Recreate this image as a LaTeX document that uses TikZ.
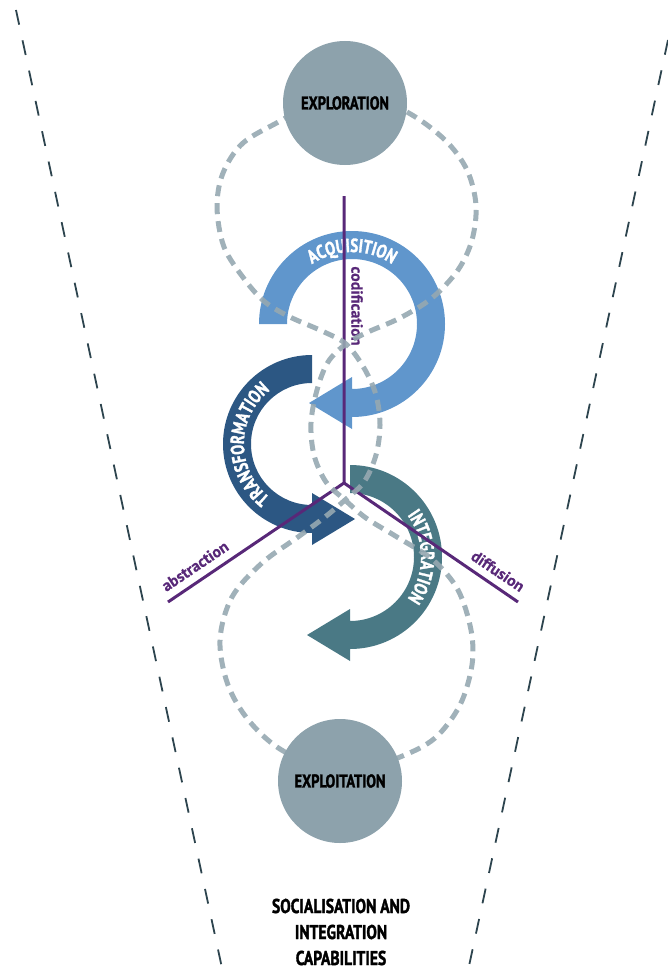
\documentclass[tikz,border=0pt]{standalone}
\usepackage{fontspec}
\newfontfamily\capfont[FakeStretch=0.78,BoldFeatures={FakeBold=1.6}]{PT Sans}
\newfontfamily\labfont[BoldFeatures={FakeBold=0.4}]{PT Sans}
\usetikzlibrary{calc,decorations.text}

\definecolor{hubgrey}{RGB}{141,162,172}
\definecolor{loopgrey}{RGB}{150,168,177}
\definecolor{acqblue}{RGB}{96,150,204}
\definecolor{trfblue}{RGB}{44,87,131}
\definecolor{intteal}{RGB}{74,121,133}
\definecolor{axispurple}{RGB}{88,40,120}
\definecolor{funnelgrey}{RGB}{45,68,78}

% curved band arrow: #1 colour, #2 centre, #3 mid radius,
% #4 start angle, #5 end angle, #6 direction of the tip
\newcommand{\bandarrow}[6]{%
  \pgfmathsetmacro\bandRo{#3+14}\pgfmathsetmacro\bandRi{#3-14}%
  \pgfmathsetmacro\bandRh{#3+26}\pgfmathsetmacro\bandRl{#3-26}%
  \fill[#1] ($(#2)+(#4:\bandRo)$) arc[start angle=#4, end angle=#5, radius=\bandRo]
    -- ($(#2)+(#5:\bandRh)$) -- ($(#2)+(#5:#3)+(#6:43)$) -- ($(#2)+(#5:\bandRl)$)
    -- ($(#2)+(#5:\bandRi)$) arc[start angle=#5, end angle=#4, radius=\bandRi] -- cycle;}

% white capitals set along a clockwise arc
\newcommand{\bandtext}[5]{%
  \path[decorate, decoration={text along path, text align=center,
      text={|\color{white}\capfont\bfseries\fontsize{19}{19}\selectfont|#5}}]
    ($(#1)+(#3:#2)$) arc[start angle=#3, end angle=#4, radius=#2];}

\tikzset{
  funnel/.style={draw=funnelgrey, line width=1.8pt, dash pattern=on 15pt off 16pt},
  axisline/.style={draw=axispurple, line width=3pt},
  axlabel/.style={text=axispurple, font=\labfont\bfseries\fontsize{16}{16}\selectfont, inner sep=0pt},
  loopline/.style={draw=loopgrey, line width=5pt, dash pattern=on 11pt off 7pt, opacity=0.9},
  hub/.style={circle, fill=hubgrey, minimum size=124pt, inner sep=0pt,
    font=\capfont\bfseries\fontsize{18.5}{18.5}\selectfont, text=black},
  caption/.style={align=center, font=\capfont\bfseries\fontsize{20}{26}\selectfont, text=black}
}

\begin{document}
\begin{tikzpicture}[x=1pt, y=1pt]
\useasboundingbox (0,0) rectangle (667,-971);

% funnel edges
\coordinate (fltop) at (16,-10);
\coordinate (flbot) at (222,-968);
\coordinate (frtop) at (668,-40);
\coordinate (frbot) at (469,-966);
\draw[funnel] (fltop) -- (flbot);
\draw[funnel] (frtop) -- (frbot);

% centres of the three cycles
\coordinate (acqc) at (352,-324);
\coordinate (trfc) at (312,-444);
\coordinate (intc) at (350,-557);

\bandarrow{acqblue}{acqc}{79}{180}{-90}{180}
\bandarrow{trfblue}{trfc}{75}{90}{270}{0}
\bandarrow{intteal}{intc}{78}{90}{-90}{180}

\bandtext{acqc}{72}{145}{35}{ACQUISITION}
\bandtext{trfc}{68}{250}{110}{TRANSFORMATION}
\bandtext{intc}{71}{55}{-55}{INTEGRATION}

% knowledge axes
\coordinate (hubpt) at (344,-483);
\coordinate (codtop) at (344,-196);
\coordinate (absend) at (168,-602);
\coordinate (difend) at (518,-602);
\draw[axisline] (codtop) -- (hubpt) -- (absend);
\draw[axisline] (hubpt) -- (difend);

\node[axlabel, rotate=-90] (codlab) at (357,-306) {codification};
\node[axlabel, rotate=34] (abslab) at (195,-566) {abstraction};
\node[axlabel, rotate=-34] (diflab) at (498,-571) {diffusion};

% dashed figure-eight path linking exploration and exploitation
\draw[loopline] plot[smooth cycle, tension=0.55] coordinates {
  (346,-85) (407,-112) (445,-140) (467,-170) (476,-205) (472,-240) (458,-270)
  (432,-298) (400,-318) (368,-332) (346,-344) (328,-362) (317,-390) (311,-423)
  (314,-455) (326,-482) (345,-500) (366,-518) (397,-537) (433,-560) (458,-590)
  (471,-630) (472,-665) (460,-705) (435,-738) (400,-757) (345,-775) (285,-752)
  (250,-722) (228,-685) (220,-640) (232,-597) (262,-563) (298,-537) (325,-517)
  (345,-500) (364,-482) (376,-455) (380,-425) (376,-395) (364,-368) (346,-344)
  (322,-331) (290,-317) (265,-302) (245,-280) (224,-247) (217,-207) (223,-173)
  (243,-143) (282,-120)};

\node[hub] (explor) at (345,-103) {EXPLORATION};
\node[hub] (exploit) at (340,-781) {EXPLOITATION};

\node[caption] (capab) at (341,-932) {SOCIALISATION AND\\INTEGRATION\\CAPABILITIES};
\end{tikzpicture}
\end{document}
